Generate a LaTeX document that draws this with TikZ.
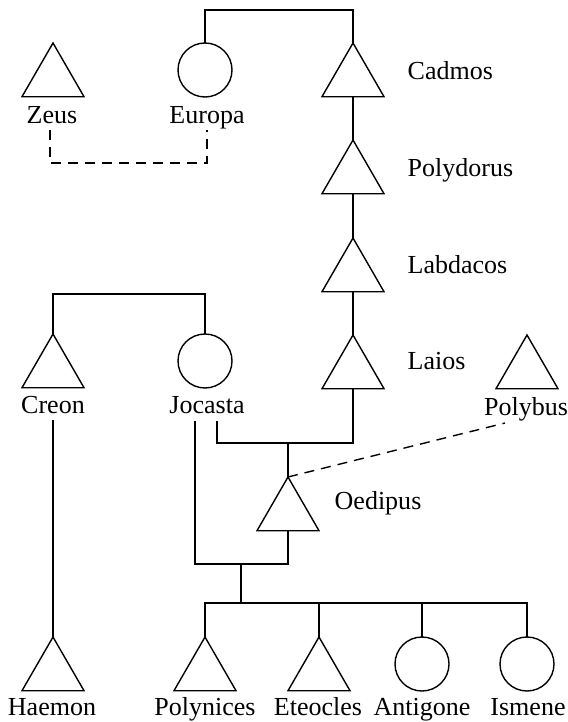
\documentclass[tikz,border=0pt]{standalone}
\usepackage{fontspec}
\setmainfont{Liberation Serif}
\usetikzlibrary{shapes.geometric,calc}
\begin{document}
\begin{tikzpicture}[x=1pt,y=-1pt,line width=1.4pt,
  male/.style={draw,regular polygon,regular polygon sides=3,minimum size=71.6pt,inner sep=0pt,outer sep=0pt,anchor=north},
  female/.style={draw,circle,minimum size=54pt,inner sep=0pt,outer sep=0pt},
  lbl/.style={anchor=base,inner sep=0pt,font=\fontsize{26}{30}\selectfont},
  rlbl/.style={lbl,anchor=base west},
  kin/.style={dash pattern=on 10pt off 7pt}]
\useasboundingbox (0,0) rectangle (567,722);
% persons
\node[male] (zeus) at (53,43) {};
\node[female] (europa) at (205,70) {};
\node[male] (cadmos) at (353,43) {};
\node[male] (polydorus) at (353,140) {};
\node[male] (labdacos) at (353,238) {};
\node[male] (laios) at (353,335) {};
\node[male] (polybus) at (527,335) {};
\node[male] (creon) at (53,334) {};
\node[female] (jocasta) at (205,361) {};
\node[male] (oedipus) at (288,477) {};
\node[male] (haemon) at (53,637) {};
\node[male] (polynices) at (205,637) {};
\node[male] (eteocles) at (319,637) {};
\node[female] (antigone) at (422,664) {};
\node[female] (ismene) at (527,664) {};
% labels
\node[lbl] (zeuslbl) at (52,124) {Zeus};
\node[lbl] (europalbl) at (207,124) {Europa};
\node[rlbl] (cadmoslbl) at (407,80) {Cadmos};
\node[rlbl] (polydoruslbl) at (407,177) {Polydorus};
\node[rlbl] (labdacoslbl) at (407,273) {Labdacos};
\node[rlbl] (laioslbl) at (407,369) {Laios};
\node[lbl] (creonlbl) at (53,413) {Creon};
\node[lbl] (jocastalbl) at (207,413) {Jocasta};
\node[lbl] (polybuslbl) at (526,415) {Polybus};
\node[rlbl] (oedipuslbl) at (334,509) {Oedipus};
\node[lbl] (haemonlbl) at (52,715) {Haemon};
\node[lbl] (polyniceslbl) at (205,715) {Polynices};
\node[lbl] (eteocleslbl) at (318,715) {Eteocles};
\node[lbl] (antigonelbl) at (422,715) {Antigone};
\node[lbl] (ismenelbl) at (528,715) {Ismene};
% helper coordinates
\coordinate (top) at (280,10);
\coordinate (sibcj) at (130,294);
\coordinate (jl) at (195,421);
\coordinate (jr) at (217,421);
\coordinate (mlaios) at (288,443);
\coordinate (moed) at (241,564);
\coordinate (sib) at (241,603);
\coordinate (zd) at (50,130);
\coordinate (ed) at (207,130);
\coordinate (pd) at (505,423);
% connectors
\draw (europa.north) |- (top) -| (cadmos.north);
\draw (cadmos.south) -- (polydorus.north);
\draw (polydorus.south) -- (labdacos.north);
\draw (labdacos.south) -- (laios.north);
\draw[kin] (zd) -- ++(0,33) -| (ed);
\draw (creon.north) |- (sibcj) -| (jocasta.north);
\draw ($(creonlbl.base)+(0,7)$) -- (haemon.north);
\draw (jr) |- (mlaios) -| (laios.south);
\draw (mlaios) -- (oedipus.north);
\draw (jl) |- (moed) -| (oedipus.south);
\draw (moed) -- (sib);
\draw (polynices.north) |- (sib) -| (ismene.north);
\draw (eteocles.north) -- (eteocles.north |- sib);
\draw (antigone.north) -- (antigone.north |- sib);
\draw[kin] (oedipus.north) -- (pd);
\end{tikzpicture}
\end{document}
